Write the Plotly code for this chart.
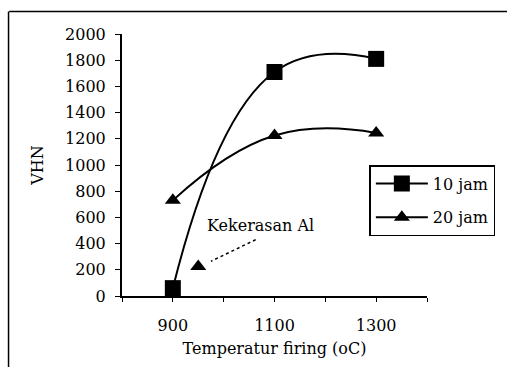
import plotly.graph_objects as go

temps = [900, 1100, 1300]
vhn_10jam = [60, 1710, 1810]
vhn_20jam = [730, 1225, 1245]
al_temp = [950]
al_vhn = [225]
al_label = "Kekerasan Al"

x_tickvals = [800, 900, 1000, 1100, 1200, 1300, 1400]
x_ticktext = ["", "900", "", "1100", "", "1300", ""]
y_tickvals = [0, 200, 400, 600, 800, 1000, 1200, 1400, 1600, 1800, 2000]

FONT = "DejaVu Serif"

fig = go.Figure()
fig.add_trace(go.Scatter(
    x=temps, y=vhn_10jam, name="10 jam", mode="lines+markers", legendgroup="a",
    line=dict(color="black", width=2, shape="spline", smoothing=1.3),
    marker=dict(symbol="square", size=16, color="black"),
))
fig.add_trace(go.Scatter(
    x=temps, y=vhn_20jam, name="20 jam", mode="lines+markers", legendgroup="b",
    line=dict(color="black", width=2, shape="spline", smoothing=1.3),
    marker=dict(symbol="triangle-up", size=14, color="black"),
))
fig.add_trace(go.Scatter(
    x=al_temp, y=al_vhn, name=al_label, mode="markers", showlegend=False,
    marker=dict(symbol="triangle-up", size=14, color="black"),
))

# dotted pointer from label to Al point
fig.add_shape(type="line", xref="x", yref="y",
              x0=1063, y0=430, x1=975, y1=265,
              line=dict(color="black", width=1.5, dash="dot"))
fig.add_annotation(x=1073, y=540, xref="x", yref="y", text=al_label,
                   showarrow=False, font=dict(family=FONT, size=16, color="black"))

# outer chart-area frame
fig.add_shape(type="line", xref="paper", yref="paper",
              x0=-0.37, x1=1.3, y0=1.086, y1=1.086,
              line=dict(color="black", width=1.5))
fig.add_shape(type="line", xref="paper", yref="paper",
              x0=-0.372, x1=-0.372, y0=1.086, y1=-0.3,
              line=dict(color="black", width=1.5))

fig.update_layout(
    width=507, height=367,
    margin=dict(l=122, r=78, t=33.5, b=70.5),
    paper_bgcolor="white", plot_bgcolor="white",
    font=dict(family=FONT, size=16, color="black"),
    showlegend=True,
    legend=dict(x=0.811, y=0.5, xanchor="left", yanchor="top",
                bordercolor="black", borderwidth=1.5, bgcolor="white",
                font=dict(family=FONT, size=16), itemwidth=52,
                tracegroupgap=10),
    xaxis=dict(range=[800, 1400], tickvals=x_tickvals, ticktext=x_ticktext,
               showline=True, linecolor="black", linewidth=2,
               ticks="outside", ticklen=4, tickcolor="black",
               showgrid=False, zeroline=False,
               ticklabelstandoff=10,
               title=dict(text="Temperatur firing (oC)", standoff=9,
                          font=dict(family=FONT, size=16))),
    yaxis=dict(range=[0, 2000], tickvals=y_tickvals,
               showline=True, linecolor="black", linewidth=2,
               ticks="outside", ticklen=5, tickcolor="black",
               showgrid=False, zeroline=False,
               ticklabelstandoff=6,
               title=dict(text="VHN", standoff=17,
                          font=dict(family=FONT, size=16))),
)

fig.write_html("out.html")
